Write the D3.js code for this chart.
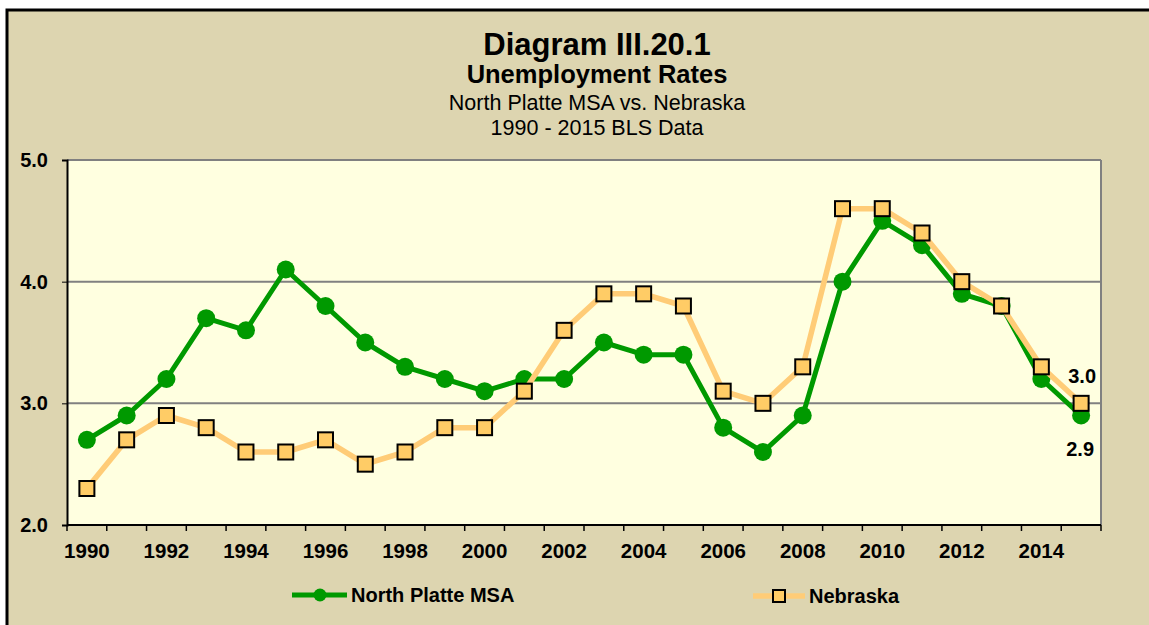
<!DOCTYPE html>
<html>
<head>
<meta charset="utf-8">
<script src="https://cdn.jsdelivr.net/npm/d3@7"></script>
<style>
  body { margin: 0; background: #fff; }
  svg { display: block; font-family: Arial, "Liberation Sans", sans-serif; }
</style>
</head>
<body>
<svg id="chart" width="1149" height="625"></svg>
<script>
const years = d3.range(1990, 2016);
const northPlatte = [2.7, 2.9, 3.2, 3.7, 3.6, 4.1, 3.8, 3.5, 3.3, 3.2, 3.1, 3.2, 3.2, 3.5, 3.4, 3.4, 2.8, 2.6, 2.9, 4.0, 4.5, 4.3, 3.9, 3.8, 3.2, 2.9];
const nebraska = [2.3, 2.7, 2.9, 2.8, 2.6, 2.6, 2.7, 2.5, 2.6, 2.8, 2.8, 3.1, 3.6, 3.9, 3.9, 3.8, 3.1, 3.0, 3.3, 4.6, 4.6, 4.4, 4.0, 3.8, 3.3, 3.0];
const yTicks = [2.0, 3.0, 4.0, 5.0];
const titles = ["Diagram III.20.1", "Unemployment Rates", "North Platte MSA vs. Nebraska", "1990 - 2015 BLS Data"];

const svg = d3.select("#chart");
const margin = { top: 160, right: 48, bottom: 100, left: 67 };
const width = 1149 - margin.left - margin.right;
const height = 625 - margin.top - margin.bottom;

// page background and frame
svg.append("rect").attr("x", 7).attr("y", 10).attr("width", 1149).attr("height", 625)
  .attr("fill", "#ddd5b0");
svg.append("path").attr("d", "M7,625V10H1149").attr("fill", "none")
  .attr("stroke", "#000").attr("stroke-width", 3);

// titles
const tSizes = [31, 25.5, 21.5, 21.5];
const tY = [55, 83, 110, 135];
const tWeight = ["bold", "bold", "normal", "normal"];
titles.forEach((t, i) => {
  svg.append("text").attr("x", 597).attr("y", tY[i])
    .attr("text-anchor", "middle").attr("font-size", tSizes[i])
    .attr("font-weight", tWeight[i]).text(t);
});

const x = d3.scaleBand().domain(years).range([0, width]);
const y = d3.scaleLinear().domain([2, 5]).range([height, 0]);

const g = svg.append("g").attr("transform", `translate(${margin.left},${margin.top})`);

g.append("rect").attr("width", width).attr("height", height).attr("fill", "#ffffe0");

g.selectAll("line.grid").data(yTicks.slice(1)).join("line").attr("class", "grid")
  .attr("x1", 0).attr("x2", width).attr("y1", d => y(d)).attr("y2", d => y(d))
  .attr("stroke", "#808080").attr("stroke-width", 2);
g.append("line").attr("x1", width).attr("x2", width).attr("y1", 0).attr("y2", height)
  .attr("stroke", "#808080").attr("stroke-width", 2);

// y axis
const yAxis = g.append("g").call(d3.axisLeft(y).tickValues(yTicks).tickFormat(d3.format(".1f")).tickSize(5).tickPadding(14));
yAxis.select(".domain").attr("stroke-width", 2);
yAxis.selectAll("text").attr("font-size", 20).attr("font-weight", "bold").attr("font-family", "Arial, 'Liberation Sans', sans-serif").attr("fill", "#000");

// x axis: ticks at category boundaries, labels every 2 years
const xAxisG = g.append("g").attr("transform", `translate(0,${height})`);
xAxisG.append("line").attr("x1", 0).attr("x2", width).attr("stroke", "#000").attr("stroke-width", 2);
xAxisG.selectAll("line.tick").data(years.concat([2016])).join("line").attr("class", "tick")
  .attr("x1", d => d === 2016 ? width : x(d)).attr("x2", d => d === 2016 ? width : x(d))
  .attr("y1", 0).attr("y2", 6).attr("stroke", "#000").attr("stroke-width", 1.5);
xAxisG.selectAll("text").data(years.filter(d => d % 2 === 0)).join("text")
  .attr("x", d => x(d) + x.bandwidth() / 2).attr("y", 33)
  .attr("text-anchor", "middle").attr("font-size", 20.5).attr("font-weight", "bold").text(d => d);

const cx = d => x(d) + x.bandwidth() / 2;
const line = d3.line().x((d, i) => cx(years[i])).y(d => y(d));

g.append("path").datum(northPlatte).attr("d", line).attr("fill", "none")
  .attr("stroke", "#009900").attr("stroke-width", 5).attr("stroke-linejoin", "round");
g.selectAll("circle.np").data(northPlatte).join("circle").attr("class", "np")
  .attr("cx", (d, i) => cx(years[i])).attr("cy", d => y(d)).attr("r", 9).attr("fill", "#009900");

g.append("path").datum(nebraska).attr("d", line).attr("fill", "none")
  .attr("stroke", "#ffcc77").attr("stroke-width", 5.5).attr("stroke-linejoin", "round");
g.selectAll("rect.ne").data(nebraska).join("rect").attr("class", "ne")
  .attr("x", (d, i) => cx(years[i]) - 7.5).attr("y", d => y(d) - 7.5)
  .attr("width", 15).attr("height", 15).attr("fill", "#ffcc66")
  .attr("stroke", "#000").attr("stroke-width", 2);

// end labels
const last = years.length - 1;
g.append("text").attr("x", cx(years[last]) + 1).attr("y", y(nebraska[last]) - 20)
  .attr("text-anchor", "middle").attr("font-size", 20).attr("font-weight", "bold").text(nebraska[last].toFixed(1));
g.append("text").attr("x", cx(years[last]) - 1).attr("y", y(northPlatte[last]) + 40)
  .attr("text-anchor", "middle").attr("font-size", 20).attr("font-weight", "bold").text(northPlatte[last].toFixed(1));

// legend
const lg1 = svg.append("g").attr("transform", "translate(292,595)");
lg1.append("line").attr("x1", 0).attr("x2", 55).attr("stroke", "#009900").attr("stroke-width", 5);
lg1.append("circle").attr("cx", 28).attr("r", 6.5).attr("fill", "#009900");
lg1.append("text").attr("x", 59).attr("y", 7).attr("font-size", 20).attr("font-weight", "bold").text("North Platte MSA");

const lg2 = svg.append("g").attr("transform", "translate(753,596)");
lg2.append("line").attr("x1", 0).attr("x2", 52).attr("stroke", "#ffcc77").attr("stroke-width", 5.5);
lg2.append("rect").attr("x", 20).attr("y", -6).attr("width", 12).attr("height", 12)
  .attr("fill", "#ffcc66").attr("stroke", "#000").attr("stroke-width", 2);
lg2.append("text").attr("x", 56).attr("y", 7).attr("font-size", 20).attr("font-weight", "bold").text("Nebraska");
</script>
</body>
</html>
